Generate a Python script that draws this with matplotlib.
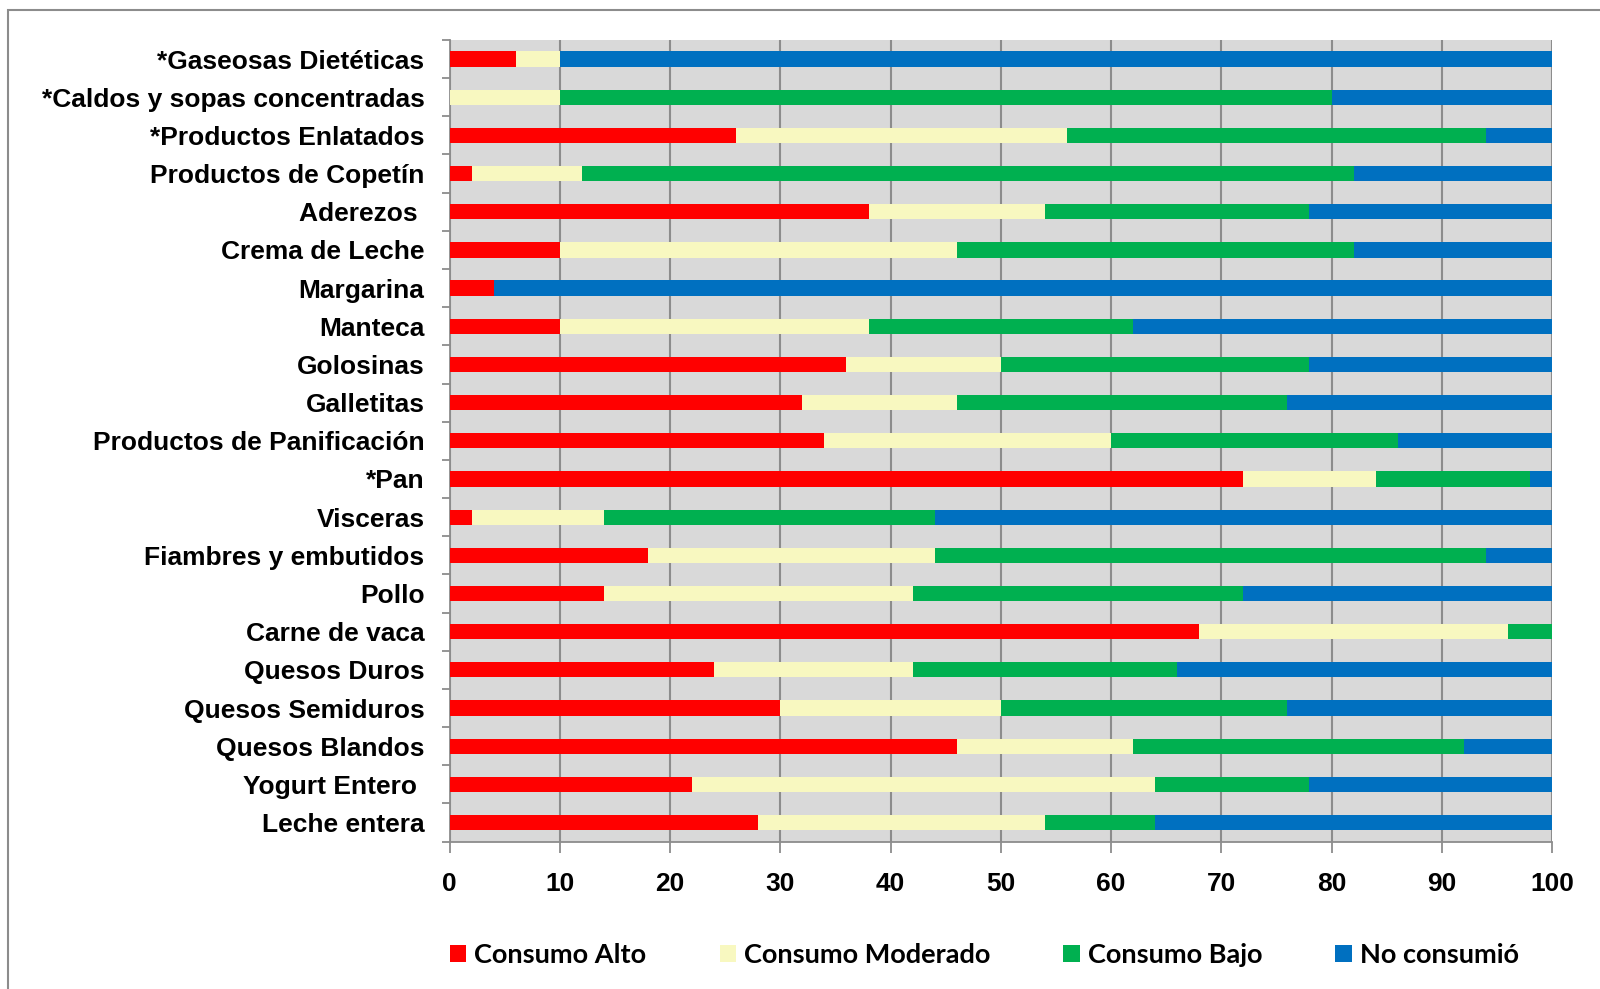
#!/usr/bin/env python3
# -*- coding: utf-8 -*-
"""
Stacked horizontal bars: consumption level per food group (%).
"""

import matplotlib
matplotlib.use("Agg")
import numpy as np
import matplotlib.pyplot as plt
from matplotlib.patches import Rectangle, Patch

# ----------- DATA (top to bottom) -----------
categories = [
    "*Gaseosas Dietéticas", "*Caldos y sopas concentradas", "*Productos Enlatados",
    "Productos de Copetín", "Aderezos ", "Crema de Leche", "Margarina", "Manteca",
    "Golosinas", "Galletitas", "Productos de Panificación", "*Pan", "Visceras",
    "Fiambres y embutidos", "Pollo", "Carne de vaca", "Quesos Duros",
    "Quesos Semiduros", "Quesos Blandos", "Yogurt Entero ", "Leche entera",
]
consumo_alto     = [6, 0, 26, 2, 38, 10, 4, 10, 36, 32, 34, 72, 2, 18, 14, 68, 24, 30, 46, 22, 28]
consumo_moderado = [4, 10, 30, 10, 16, 36, 0, 28, 14, 14, 26, 12, 12, 26, 28, 28, 18, 20, 16, 42, 26]
consumo_bajo     = [0, 70, 38, 70, 24, 36, 0, 24, 28, 30, 26, 14, 30, 50, 30, 4, 24, 26, 30, 14, 10]
no_consumio      = [90, 20, 6, 18, 22, 18, 96, 38, 22, 24, 14, 2, 56, 6, 28, 0, 34, 24, 8, 22, 36]

series_names = ["Consumo Alto", "Consumo Moderado", "Consumo Bajo", "No consumió"]
series_vals = [consumo_alto, consumo_moderado, consumo_bajo, no_consumio]
colors = ["#ff0000", "#f8f8c0", "#00b050", "#0070c0"]
xticks = [0, 10, 20, 30, 40, 50, 60, 70, 80, 90, 100]

# ----------- FIGURE -----------
fig = plt.figure(figsize=(16, 9.89), dpi=100)
ax = fig.add_axes([0.281, 0.149, 0.689, 0.8106])

# outer frame (chart border, clipped at right/bottom like the source)
fig.patches.append(Rectangle((8 / 1600, -0.05), 1.2, 1 - 10 / 989 + 0.05,
                             transform=fig.transFigure, fill=False,
                             edgecolor="#8c8c8c", lw=1.5))

y = np.arange(len(categories))
left = np.zeros(len(categories))
for name, vals, col in zip(series_names, series_vals, colors):
    ax.barh(y, vals, left=left, height=0.4, color=col, label=name, zorder=3)
    left += np.array(vals)

ax.set_facecolor("#d9d9d9")
ax.set_xlim(0, 100)
ax.set_ylim(len(categories) - 0.5, -0.5)
ax.set_xticks(xticks)
ax.set_xticklabels([str(t) for t in xticks], fontsize=19, fontweight="bold",
                   family="Liberation Sans")
ax.set_yticks(y)
ax.set_yticklabels(categories, fontsize=19, fontweight="bold", family="Liberation Sans")
ax.tick_params(axis="y", length=0, pad=18)
ax.set_yticks(np.arange(len(categories) + 1) - 0.5, minor=True)
ax.tick_params(axis="y", which="minor", length=6, color="#8c8c8c", width=1.3)
ax.tick_params(axis="x", length=8, color="#8c8c8c", width=1.3, pad=14)
ax.grid(axis="x", color="#8c8c8c", lw=1.5, zorder=1)
ax.set_axisbelow(True)
for s in ["top", "right"]:
    ax.spines[s].set_visible(False)
for s in ["left", "bottom"]:
    ax.spines[s].set_color("#8c8c8c")
    ax.spines[s].set_linewidth(1.3)

handles = [Patch(facecolor=c, edgecolor="none") for c in colors]
fig.legend(handles, series_names, loc="center left", bbox_to_anchor=(0.266, 0.034),
           ncol=4, frameon=False, prop={"family": "Lato", "weight": "bold", "size": 19.5},
           handlelength=0.6, handleheight=0.6, handletextpad=0.3, columnspacing=2.7)

fig.savefig("out.png", dpi=100)
